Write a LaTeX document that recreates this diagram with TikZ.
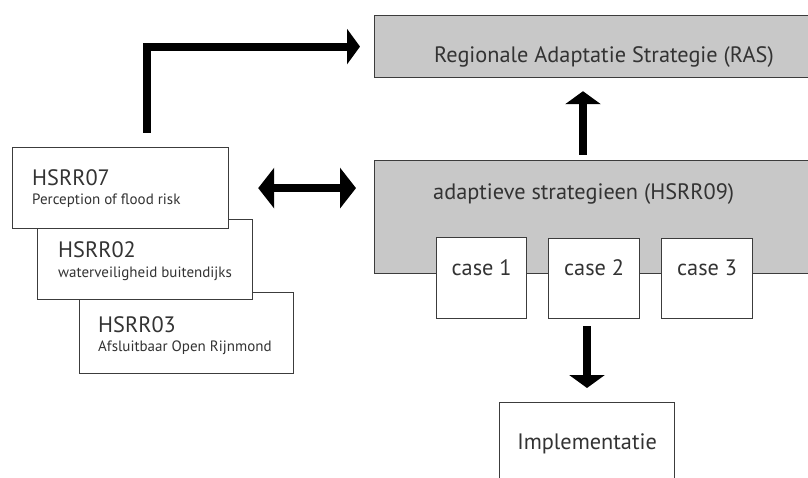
\documentclass[tikz,border=0pt]{standalone}
\usepackage{fontspec}
\setmainfont{PT Sans}
\usetikzlibrary{arrows.meta}
\definecolor{boxgrey}{HTML}{C8C8C8}
\definecolor{boxline}{HTML}{3C3C3C}
\definecolor{inkgrey}{HTML}{333333}

\begin{document}
\begin{tikzpicture}[x=1pt,y=-1pt]

	\tikzset{
	  box/.style={draw=boxline, line width=1.2pt, fill=white, inner sep=0pt, anchor=north west},
	  greybox/.style={box, fill=boxgrey},
	  lbl/.style={text=inkgrey, inner sep=0pt, font=\fontsize{22.3}{26}\selectfont},
	  sublbl/.style={text=inkgrey, inner sep=0pt, font=\fontsize{15}{18}\selectfont},
	  fat/.style={line width=8pt, -{Triangle[length=13pt,width=35pt]}},
	  fatboth/.style={line width=8pt, {Triangle[length=16pt,width=40pt]}-{Triangle[length=16pt,width=40pt]}},
	}
	\useasboundingbox (0,0) rectangle (808,478);
	\clip (0,0) rectangle (808,478);

	% right column
	\node[greybox, minimum width=446pt, minimum height=62pt] (ras) at (374,15) {};
	\node[lbl, anchor=base] (rastext) at (604,63) {Regionale Adaptatie Strategie (RAS)};
	\node[greybox, minimum width=446pt, minimum height=113pt] (adapt) at (374,160) {};
	\node[lbl, anchor=base west] (adapttext) at (433,200) {adaptieve strategieen (HSRR09)};
	\node[box, minimum width=90pt, minimum height=81pt] (case1) at (436,237) {};
	\node[box, minimum width=91pt, minimum height=80pt] (case2) at (548,238) {};
	\node[box, minimum width=91pt, minimum height=80pt] (case3) at (661,238) {};
	\node[lbl, anchor=base] (case1text) at (case1.center |- 0,276) {case 1};
	\node[lbl, anchor=base] (case2text) at (case2.center |- 0,276) {case 2};
	\node[lbl, anchor=base] (case3text) at (case3.center |- 0,276) {case 3};
	\node[box, minimum width=175pt, minimum height=90pt] (impl) at (499,402) {};
	\node[lbl, anchor=base] (impltext) at (impl.center |- 0,449) {Implementatie};

	% left stack, back to front
	\node[box, minimum width=214pt, minimum height=81pt] (h03) at (79,292) {};
	\node[lbl, anchor=base west] (h03title) at (98,332) {HSRR03};
	\node[sublbl, anchor=base west] (h03sub) at (98,351) {Afsluitbaar Open Rijnmond};
	\node[box, minimum width=215pt, minimum height=80pt] (h02) at (37,219) {};
	\node[lbl, anchor=base west] (h02title) at (58,258) {HSRR02};
	\node[sublbl, anchor=base west] (h02sub) at (58,277) {waterveiligheid buitendijks};
	\node[box, minimum width=216pt, minimum height=81pt] (h07) at (12,147) {};
	\node[lbl, anchor=base west] (h07title) at (32,186) {HSRR07};
	\node[sublbl, anchor=base west] (h07sub) at (32,205) {Perception of flood risk};

	% arrows
	\coordinate (elbow) at (147,0);
	\coordinate (upx) at (583,0);
	\coordinate (downx) at (587,0);
	\draw[fat, shorten <=14pt, shorten >=14pt] (h07.north -| elbow) |- (ras.west);
	\draw[fat, shorten <=5pt, shorten >=13pt] (adapt.north -| upx) -- (ras.south -| upx);
	\draw[fat, shorten <=7pt, shorten >=14pt] (case2.south -| downx) -- (impl.north -| downx);
	\draw[fatboth, shorten <=29pt, shorten >=18pt] (h07.east) -- (h07.east -| adapt.west);

\end{tikzpicture}
\end{document}
